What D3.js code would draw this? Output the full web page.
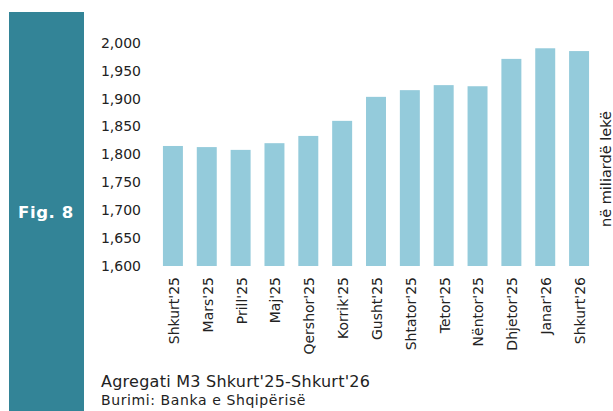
<!DOCTYPE html>
<html>
<head>
<meta charset="utf-8">
<script src="https://cdn.jsdelivr.net/npm/d3@7"></script>
<style>
  body { margin: 0; background: #fff; }
  text { font-family: "DejaVu Sans", sans-serif; }
</style>
</head>
<body>
<script>
// months and M3 values (billion lek)
var months = ["Shkurt'25", "Mars'25", "Prill'25", "Maj'25", "Qershor'25", "Korrik'25", "Gusht'25",
              "Shtator'25", "Tetor'25", "Nëntor'25", "Dhjetor'25", "Janar'26", "Shkurt'26"];
var m3Values = [1815, 1813, 1808, 1820, 1833, 1860, 1903, 1915, 1924, 1922, 1971, 1990, 1985];
var yTicks = [1600, 1650, 1700, 1750, 1800, 1850, 1900, 1950, 2000];

var width = 613, height = 411;

var svg = d3.select("body").append("svg")
  .attr("width", width)
  .attr("height", height);

// side panel with figure number
svg.append("rect")
  .attr("x", 9).attr("y", 12)
  .attr("width", 75).attr("height", height - 12)
  .attr("fill", "#338497");

svg.append("text")
  .attr("x", 46).attr("y", 218)
  .attr("text-anchor", "middle")
  .attr("fill", "#fff")
  .style("font-weight", "bold")
  .style("font-size", "16.5px")
  .style("letter-spacing", "0.6px")
  .text("Fig. 8");

var x = d3.scaleBand()
  .domain(months)
  .range([156, 596])
  .paddingInner(0.41)
  .paddingOuter(0.205);

var y = d3.scaleLinear()
  .domain([1600, 2000])
  .range([266, 42.7]);

// bars
svg.selectAll(".bar")
  .data(months)
  .enter().append("rect")
  .attr("class", "bar")
  .attr("x", function(d) { return x(d); })
  .attr("width", x.bandwidth())
  .attr("y", function(d, i) { return y(m3Values[i]); })
  .attr("height", function(d, i) { return y(1600) - y(m3Values[i]); })
  .attr("fill", "#94cbdb");

// y axis (labels only)
var yAxis = svg.append("g")
  .attr("transform", "translate(147,0)")
  .call(d3.axisLeft(y).tickValues(yTicks).tickFormat(d3.format(",")).tickSize(0).tickPadding(6));
yAxis.select(".domain").remove();
yAxis.selectAll("text")
  .attr("fill", "#222")
  .style("font-size", "14px")
  .style("font-family", "'DejaVu Sans', sans-serif");

// x axis (rotated labels)
var xAxis = svg.append("g")
  .attr("transform", "translate(1,266)")
  .call(d3.axisBottom(x).tickSize(0).tickPadding(0));
xAxis.select(".domain").remove();
xAxis.selectAll("text")
  .attr("transform", "rotate(-90)")
  .attr("x", -11)
  .attr("y", 0)
  .attr("dy", "0.35em")
  .attr("text-anchor", "end")
  .attr("fill", "#222")
  .style("font-size", "14px")
  .style("font-family", "'DejaVu Sans', sans-serif");

// unit label on the right
svg.append("text")
  .attr("transform", "translate(611,169) rotate(-90)")
  .attr("text-anchor", "middle")
  .attr("fill", "#222")
  .style("font-size", "14.5px")
  .text("në miliardë lekë");

// title and source
svg.append("text")
  .attr("x", 101).attr("y", 387)
  .attr("fill", "#222")
  .style("font-size", "16px")
  .style("letter-spacing", "0.25px")
  .text("Agregati M3 Shkurt'25-Shkurt'26");

svg.append("text")
  .attr("x", 101).attr("y", 405)
  .attr("fill", "#222")
  .style("font-size", "14px")
  .style("letter-spacing", "0.6px")
  .text("Burimi: Banka e Shqipërisë");
</script>
</body>
</html>
